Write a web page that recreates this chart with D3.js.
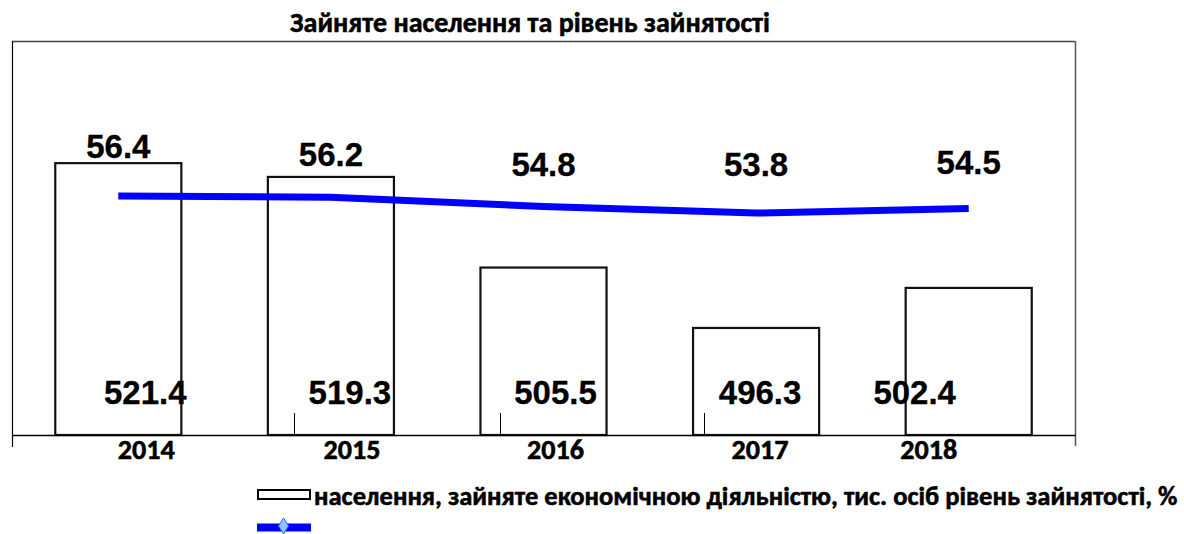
<!DOCTYPE html>
<html>
<head>
<meta charset="utf-8">
<script src="https://cdn.jsdelivr.net/npm/d3@7"></script>
<style>
  html, body { margin: 0; padding: 0; background: #fff; }
  svg { display: block; }
  .cal { font-family: Carlito, Calibri, Lato, "Open Sans", sans-serif; font-weight: 700; stroke: #000; stroke-width: 0.55px; }
  .num { font-family: "Liberation Sans", Arial, sans-serif; font-weight: 700; stroke: #000; stroke-width: 0.3px; }
</style>
</head>
<body>
<svg id="chart" width="1184" height="534"></svg>
<script>
// ---- data ----
const years = ["2014", "2015", "2016", "2017", "2018"];
const employed = [521.4, 519.3, 505.5, 496.3, 502.4];      // тис. осіб
const employmentRate = [56.4, 56.2, 54.8, 53.8, 54.5];     // %
const titleText = "Зайняте населення та рівень зайнятості";
const legendText = "населення, зайняте економічною діяльністю, тис. осіб рівень зайнятості, %";

// ---- layout (label nudges as in the original, not data) ----
const barLabelNudge = [27, 19, 12, 4, -54];
const yearLabelNudge = [28, 21, 12, 4, -40];
const rateLabelLift = [38, 31, 30, 37, 34];
const strayTick = [false, true, true, true, false];

const svg = d3.select("#chart");
const L = 12, R = 1075, T = 41, B = 435;

const x = d3.scaleBand().domain(years).range([L, R]).paddingInner(0.407).paddingOuter(0.2035);
const yBar = d3.scaleLinear().domain([480, 540]).range([B, T]);
const yRate = d3.scaleLinear().domain([20, 80]).range([B, T]);
const cx = i => x(years[i]) + x.bandwidth() / 2;

function fitWidth(sel, target) {
  sel.each(function () {
    const fs = parseFloat(d3.select(this).style("font-size"));
    const w = this.getComputedTextLength();
    if (w > 0) d3.select(this).style("font-size", (fs * target / w) + "px");
  });
}

// frame
svg.append("line").attr("x1", L).attr("x2", R).attr("y1", T + 0.5).attr("y2", T + 0.5)
  .attr("stroke", "#444").attr("stroke-width", 1.5);
svg.append("line").attr("x1", L + 0.5).attr("x2", L + 0.5).attr("y1", T).attr("y2", B + 12)
  .attr("stroke", "#000").attr("stroke-width", 1.2);
svg.append("line").attr("x1", R + 0.5).attr("x2", R + 0.5).attr("y1", T).attr("y2", B + 11)
  .attr("stroke", "#555").attr("stroke-width", 1.5);

// bars
svg.append("g").selectAll("rect").data(employed).join("rect")
  .attr("x", (d, i) => x(years[i]))
  .attr("y", d => yBar(d))
  .attr("width", x.bandwidth())
  .attr("height", d => B - yBar(d))
  .attr("fill", "#fff")
  .attr("stroke", "#111")
  .attr("stroke-width", 2.2);

// x axis line
const xAxis = d3.axisBottom(x).tickSize(0).tickFormat("");
svg.append("g").attr("transform", `translate(0,${B})`).call(xAxis)
  .call(g => g.select(".domain").attr("stroke", "#000").attr("stroke-width", 1.5));

// small stray ticks inside bars (as in the original)
svg.append("g").selectAll("line").data(years.filter((d, i) => strayTick[i])).join("line")
  .attr("x1", d => { const i = years.indexOf(d); return Math.round(cx(i) + barLabelNudge[i] - 56) + 0.5; })
  .attr("x2", d => { const i = years.indexOf(d); return Math.round(cx(i) + barLabelNudge[i] - 56) + 0.5; })
  .attr("y1", 413).attr("y2", B - 1)
  .attr("stroke", "#000").attr("stroke-width", 1);

// bar value labels
svg.append("g").selectAll("text").data(employed).join("text")
  .attr("class", "num")
  .attr("x", (d, i) => cx(i) + barLabelNudge[i])
  .attr("y", 404)
  .attr("text-anchor", "middle")
  .style("font-size", "33px")
  .attr("fill", "#000")
  .text(d => d.toFixed(1));

// rate line
const line = d3.line()
  .x((d, i) => cx(i))
  .y(d => yRate(d));
svg.append("path").datum(employmentRate)
  .attr("d", line)
  .attr("fill", "none")
  .attr("stroke", "#0000ff")
  .attr("stroke-width", 7);

// rate labels
svg.append("g").selectAll("text").data(employmentRate).join("text")
  .attr("class", "num")
  .attr("x", (d, i) => cx(i))
  .attr("y", (d, i) => yRate(d) - rateLabelLift[i])
  .attr("text-anchor", "middle")
  .style("font-size", "33px")
  .attr("fill", "#000")
  .text(d => d.toFixed(1));

// year labels
const yl = svg.append("g").selectAll("text").data(years).join("text")
  .attr("class", "cal")
  .attr("x", (d, i) => cx(i) + yearLabelNudge[i])
  .attr("y", 459)
  .attr("text-anchor", "middle")
  .style("font-size", "24px")
  .attr("fill", "#000")
  .text(d => d);
fitWidth(yl, 57);

// title
const tt = svg.append("text").attr("class", "cal")
  .attr("x", 530).attr("y", 32).attr("text-anchor", "middle")
  .style("font-size", "24px").attr("fill", "#000").text(titleText);
fitWidth(tt, 480);

// legend
svg.append("rect").attr("x", 258).attr("y", 490).attr("width", 52).attr("height", 9)
  .attr("fill", "#fff").attr("stroke", "#000").attr("stroke-width", 2);
const lt = svg.append("text").attr("class", "cal")
  .attr("x", 314).attr("y", 505)
  .style("font-size", "22px").attr("fill", "#000").text(legendText);
fitWidth(lt, 864);
svg.append("line").attr("x1", 257).attr("x2", 311).attr("y1", 527.5).attr("y2", 527.5)
  .attr("stroke", "#0000ff").attr("stroke-width", 8);
svg.append("path")
  .attr("d", d3.line()([[283.5, 518], [288.5, 526], [283.5, 534], [278.5, 526]]) + "Z")
  .attr("fill", "#8fc4ff").attr("stroke", "#3060ff").attr("stroke-width", 1);
</script>
</body>
</html>
